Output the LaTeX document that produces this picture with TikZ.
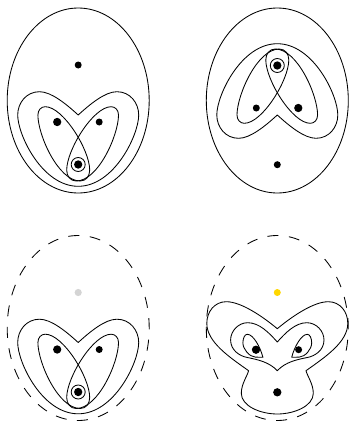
\documentclass[tikz,border=0pt]{standalone}
\tikzset{
  curve/.style={draw=black,line width=0.85pt,line join=round},
  outline/.style={curve,dash pattern=on 11pt off 10.49pt,dash phase=9.75pt},
  bigdot/.style={fill=black},
}
\newcommand{\heartcurves}{%
  \path[curve] (0,115) .. controls (12,104) and (27,91.7) .. (38.7,91.7)
    .. controls (52,91.7) and (60.5,103) .. (60.5,115)
    .. controls (60.5,135) and (36,186.3) .. (0,186.3)
    .. controls (-36,186.3) and (-60.5,135) .. (-60.5,115)
    .. controls (-60.5,103) and (-52,91.7) .. (-38.7,91.7)
    .. controls (-27,91.7) and (-12,104) .. cycle;
  \path[curve] (40.3,115) .. controls (40.3,135) and (20,181) .. (-2,181)
    .. controls (-8,181) and (-11.5,176) .. (-11.5,170)
    .. controls (-11.5,150) and (15,106.7) .. (33,106.7)
    .. controls (37,106.7) and (40.3,110) .. cycle;
  \path[curve] (-40.3,115) .. controls (-40.3,135) and (-20,181) .. (2,181)
    .. controls (8,181) and (11.5,176) .. (11.5,170)
    .. controls (11.5,150) and (-15,106.7) .. (-33,106.7)
    .. controls (-37,106.7) and (-40.3,110) .. cycle;
  \path[bigdot] (-21,122) circle[radius=4.15];
  \path[bigdot] (21,122) circle[radius=3.5];
  \path[bigdot] (0,164.5) circle[radius=4.15];
  \path[curve] (0,164.5) circle[radius=7];
}
\begin{document}
\begin{tikzpicture}[x=1pt,y=-1pt]
\useasboundingbox (0,0) rectangle (349,421);
% top left
\begin{scope}[shift={(78.2,0)}]
  \path[curve] (0,100.5) ellipse[x radius=71,y radius=92.5];
  \path[bigdot] (0,65) circle[radius=3.5];
  \heartcurves
\end{scope}
% top right
\begin{scope}[shift={(277.3,0)}]
  \path[curve] (0,100.5) ellipse[x radius=71,y radius=92.5];
  \path[bigdot] (0,164.7) circle[radius=3.5];
\end{scope}
\begin{scope}[shift={(277.3,230)},yscale=-1,xscale=-1]
  \heartcurves
\end{scope}
% bottom left
\begin{scope}[shift={(78.2,227.5)}]
  \path[outline] (0,100.5) ellipse[x radius=71,y radius=92.5];
  \path[fill=black!17] (0,65) circle[radius=3.6];
  \heartcurves
\end{scope}
% bottom right
\begin{scope}[shift={(277.3,0)}]
  \path[outline] (0,328) ellipse[x radius=71,y radius=92.5];
  \path[fill={rgb,255:red,255;green,215;blue,0}] (0,292.5) circle[radius=3.5];
  \path[curve] (0,328.7) .. controls (14,317) and (36,301.7) .. (51,301.7)
    .. controls (63,301.7) and (70.5,312) .. (70.5,323.3)
    .. controls (70.5,342) and (48,357) .. (28.7,370.7)
    .. controls (30,376) and (36,384) .. (36,393.3)
    .. controls (36,406) and (17,414) .. (0,414)
    .. controls (-17,414) and (-36,406) .. (-36,393.3)
    .. controls (-36,384) and (-30,376) .. (-28.7,370.7)
    .. controls (-48,357) and (-70.5,342) .. (-70.5,323.3)
    .. controls (-70.5,312) and (-63,301.7) .. (-51,301.7)
    .. controls (-36,301.7) and (-14,317) .. cycle;
  \path[curve] (0,342) .. controls (8,333) and (18,322.7) .. (29.5,322.7)
    .. controls (39,322.7) and (46.7,331) .. (46.7,340)
    .. controls (46.7,350) and (38,356) .. (30,357.5)
    .. controls (20,359.5) and (8,362) .. (0,370.7)
    .. controls (-8,362) and (-20,359.5) .. (-30,357.5)
    .. controls (-38,356) and (-46.7,350) .. (-46.7,340)
    .. controls (-46.7,331) and (-39,322.7) .. (-29.5,322.7)
    .. controls (-18,322.7) and (-8,333) .. cycle;
  \path[curve] (14.4,357.3) .. controls (17,347) and (24,334.3) .. (30,334.3)
    .. controls (32.5,334.3) and (34.4,338) .. (34.4,343)
    .. controls (34.4,349) and (28,356.8) .. (22,357.1)
    -- cycle;
  \path[curve] (-14.4,357.3) .. controls (-17,347) and (-24,334.3) .. (-30,334.3)
    .. controls (-32.5,334.3) and (-34.4,338) .. (-34.4,343)
    .. controls (-34.4,349) and (-28,356.8) .. (-22,357.1)
    -- cycle;
  \path[bigdot] (-21.3,349.7) circle[radius=4.15];
  \path[bigdot] (21.3,349.7) circle[radius=3.5];
  \path[bigdot] (0,392.3) circle[radius=4.15];
\end{scope}
\end{tikzpicture}
\end{document}
